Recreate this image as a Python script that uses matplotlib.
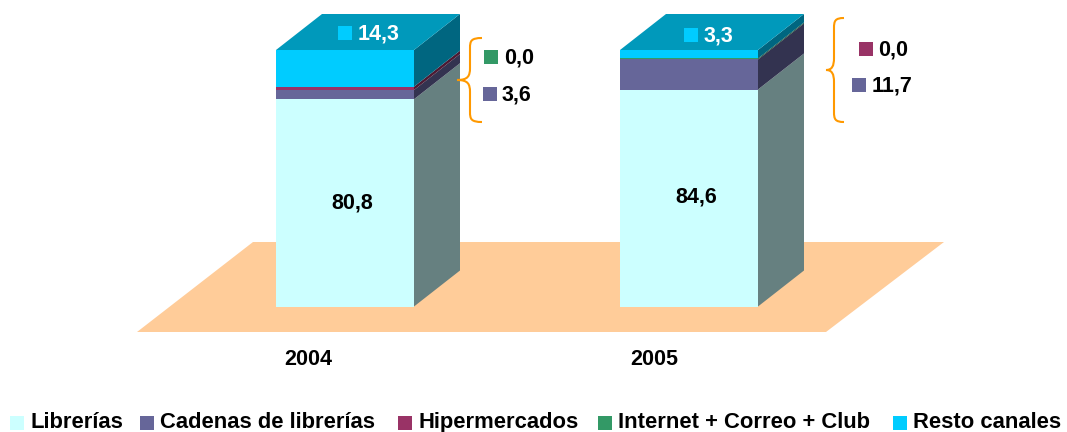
import matplotlib
matplotlib.use('Agg')
import matplotlib.pyplot as plt
from matplotlib.patches import Polygon, Rectangle, PathPatch
from matplotlib.path import Path

plt.rcParams['font.family'] = ['Liberation Sans', 'DejaVu Sans']
plt.rcParams['font.weight'] = 'bold'

years = ['2004', '2005']
channels = ['Librerías', 'Cadenas de librerías', 'Hipermercados', 'Internet + Correo + Club', 'Resto canales']
librerias = [80.8, 84.6]
cadenas = [3.6, 11.7]
hiper = [1.3, 0.0]
internet = [0.0, 0.4]
resto = [14.3, 3.3]
series = [librerias, cadenas, hiper, internet, resto]

front = ['#CCFFFF', '#666699', '#993366', '#339966', '#00CCFF']
side = ['#668080', '#333350', '#4D1A33', '#1A4D33', '#006680']
top = '#0099BB'

W, H = 1067, 432
BASE = 306.5      # pixel row of value 0
SCALE = 2.565     # pixels per percent point
DX, DY = 46, 36 / SCALE

fig = plt.figure(figsize=(W / 100, H / 100), dpi=100)

# pixel axes for the floor, braces, legend
back = fig.add_axes([0, 0, 1, 1])
back.set_xlim(0, W)
back.set_ylim(H, 0)
back.axis('off')

ax = fig.add_axes([0, 0, 1, 1], zorder=2)
ax.set_xlim(0, W)
ax.set_ylim((BASE - H) / SCALE, BASE / SCALE)
ax.axis('off')
ax.patch.set_alpha(0)

over = fig.add_axes([0, 0, 1, 1], zorder=3)
over.set_xlim(0, W)
over.set_ylim(H, 0)
over.axis('off')
over.patch.set_alpha(0)

back.add_patch(Polygon([(137, 332), (826, 332), (944, 242), (253, 242)], color='#FFCC99', lw=0))

bar_left = [276, 620]
bar_width = 138

for i, x in enumerate(bar_left):
    bottom = 0
    for vals, fc, sc in zip(series, front, side):
        v = vals[i]
        if v > 0:
            ax.add_patch(Rectangle((x, bottom), bar_width, v, color=fc, lw=0))
            x2 = x + bar_width
            ax.add_patch(Polygon([(x2, bottom), (x2 + DX, bottom + DY),
                                  (x2 + DX, bottom + v + DY), (x2, bottom + v)], color=sc, lw=0))
        bottom += v
    ax.add_patch(Polygon([(x, bottom), (x + bar_width, bottom),
                          (x + bar_width + DX, bottom + DY), (x + DX, bottom + DY)], color=top, lw=0))


def brace(xe, xs, xt, y0, ym, y1):
    verts = [(xe, y0), (xs + 1, y0), (xs, y0 + 3), (xs, y0 + 10),
             (xs, ym - 12), (xs, ym - 4), (xs - 2, ym), (xt, ym),
             (xs - 2, ym), (xs, ym + 4), (xs, ym + 12),
             (xs, y1 - 10), (xs, y1 - 3), (xs + 1, y1), (xe, y1)]
    codes = [Path.MOVETO] + [Path.CURVE4] * 3 + [Path.LINETO] + [Path.CURVE4] * 3
    codes += [Path.CURVE4] * 3 + [Path.LINETO] + [Path.CURVE4] * 3
    over.add_patch(PathPatch(Path(verts, codes), fc='none', ec='#FF9900', lw=1.5))


brace(482, 470, 457, 38, 80, 122)
brace(844, 834, 826, 18, 70, 122)


def tag(sx, sy, color, tx, label, tcolor='black', size=15.5):
    over.add_patch(Rectangle((sx, sy - 7), 14, 14, color=color, lw=0))
    over.text(tx, sy - 1.5, label, color=tcolor, fontsize=size, va='center_baseline', ha='left')


tag(338, 33, front[4], 358, '14,3', 'white')
tag(484, 57, front[3], 504, '0,0')
tag(483, 94, front[1], 502, '3,6')
tag(684, 35, front[4], 704, '3,3', 'white')
tag(859, 49, front[2], 878, '0,0')
tag(852, 85, front[1], 872, '11,7')

over.text(352.5, 201, '80,8', fontsize=15.5, ha='center', va='center_baseline')
over.text(696.5, 195, '84,6', fontsize=15.5, ha='center', va='center_baseline')
over.text(308, 357, years[0], fontsize=15.5, ha='center', va='center_baseline')
over.text(654, 357, years[1], fontsize=15.5, ha='center', va='center_baseline')

legend_sq = [10, 140, 398, 598, 893]
for sx, name, c in zip(legend_sq, channels, front):
    over.add_patch(Rectangle((sx, 416), 14, 14, color=c, lw=0))
    over.text(sx + 20, 428, name, fontsize=15.8, ha='left', va='baseline')

fig.savefig('out.png', dpi=100, facecolor='white')
